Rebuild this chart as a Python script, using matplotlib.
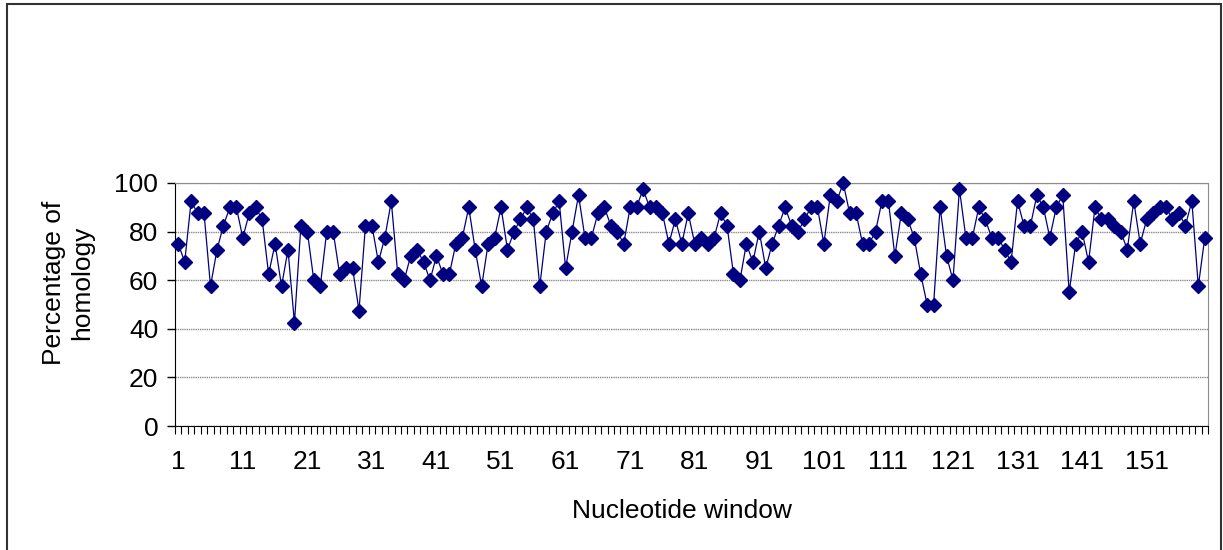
import numpy as np
import matplotlib.pyplot as plt
from matplotlib.patches import Rectangle

plt.rcParams['font.family'] = ['Liberation Sans', 'DejaVu Sans']

# percentage of homology for each nucleotide window (1..160)
homology = [
    75, 67.5, 92.5, 87.5, 87.5, 57.5, 72.5, 82.5, 90, 90,
    77.5, 87.5, 90, 85, 62.5, 75, 57.5, 72.5, 42.5, 82.5,
    80, 60, 57.5, 80, 80, 62.5, 65, 65, 47.5, 82.5,
    82.5, 67.5, 77.5, 92.5, 62.5, 60, 70, 72.5, 67.5, 60,
    70, 62.5, 62.5, 75, 77.5, 90, 72.5, 57.5, 75, 77.5,
    90, 72.5, 80, 85, 90, 85, 57.5, 80, 87.5, 92.5,
    65, 80, 95, 77.5, 77.5, 87.5, 90, 82.5, 80, 75,
    90, 90, 97.5, 90, 90, 87.5, 75, 85, 75, 87.5,
    75, 77.5, 75, 77.5, 87.5, 82.5, 62.5, 60, 75, 67.5,
    80, 65, 75, 82.5, 90, 82.5, 80, 85, 90, 90,
    75, 95, 92.5, 100, 87.5, 87.5, 75, 75, 80, 92.5,
    92.5, 70, 87.5, 85, 77.5, 62.5, 50, 50, 90, 70,
    60, 97.5, 77.5, 77.5, 90, 85, 77.5, 77.5, 72.5, 67.5,
    92.5, 82.5, 82.5, 95, 90, 77.5, 90, 95, 55, 75,
    80, 67.5, 90, 85, 85, 82.5, 80, 72.5, 92.5, 75,
    85, 87.5, 90, 90, 85, 87.5, 82.5, 92.5, 57.5, 77.5,
]
windows = np.arange(1, len(homology) + 1)
label_windows = list(range(1, 161, 10))
y_ticks = [0, 20, 40, 60, 80, 100]

W, H = 1223, 550
fig = plt.figure(figsize=(W / 100, H / 100), dpi=100)
ax = fig.add_axes([175 / W, 1 - 426 / H, (1208 - 175) / W, (426 - 183) / H])

ax.plot(windows, homology, color='#000080', linewidth=0.9, marker='D',
        markersize=6.8, markerfacecolor='#000080', markeredgecolor='#000080',
        clip_on=False, zorder=3)

ax.set_xlim(0.5, len(homology) + 0.5)
ax.set_ylim(0, 100)

ax.set_yticks(y_ticks)
ax.yaxis.grid(True, color='#8c8c8c', linewidth=1.0, linestyle=(0, (1, 0.6)))
ax.tick_params(axis='y', direction='out', length=6, width=1, labelsize=19, pad=6)

ax.set_xticks(label_windows)
ax.set_xticklabels([str(v) for v in label_windows])
ax.set_xticks(np.arange(0.5, len(homology) + 1, 1), minor=True)
ax.tick_params(axis='x', which='major', length=0, labelsize=19, pad=17)
ax.tick_params(axis='x', which='minor', direction='out', length=6, width=0.8)

for side in ['top', 'right']:
    ax.spines[side].set_color('#8c8c8c')
ax.spines['left'].set_color('black')
ax.spines['bottom'].set_color('black')

fig.text(68 / W, 1 - 283 / H, 'Percentage of\nhomology', rotation=90,
         ha='center', va='center', multialignment='center', fontsize=19)
fig.text(682 / W, 1 - 518 / H, 'Nucleotide window', ha='center',
         va='baseline', fontsize=19)

# outer chart border (bottom edge lies outside the image)
fig.add_artist(Rectangle((7 / W, -0.05), (1221 - 7) / W, 1.05 - 4 / H,
                         transform=fig.transFigure, fill=False,
                         edgecolor='#333333', linewidth=1.5))

fig.savefig('out.png', dpi=100)
